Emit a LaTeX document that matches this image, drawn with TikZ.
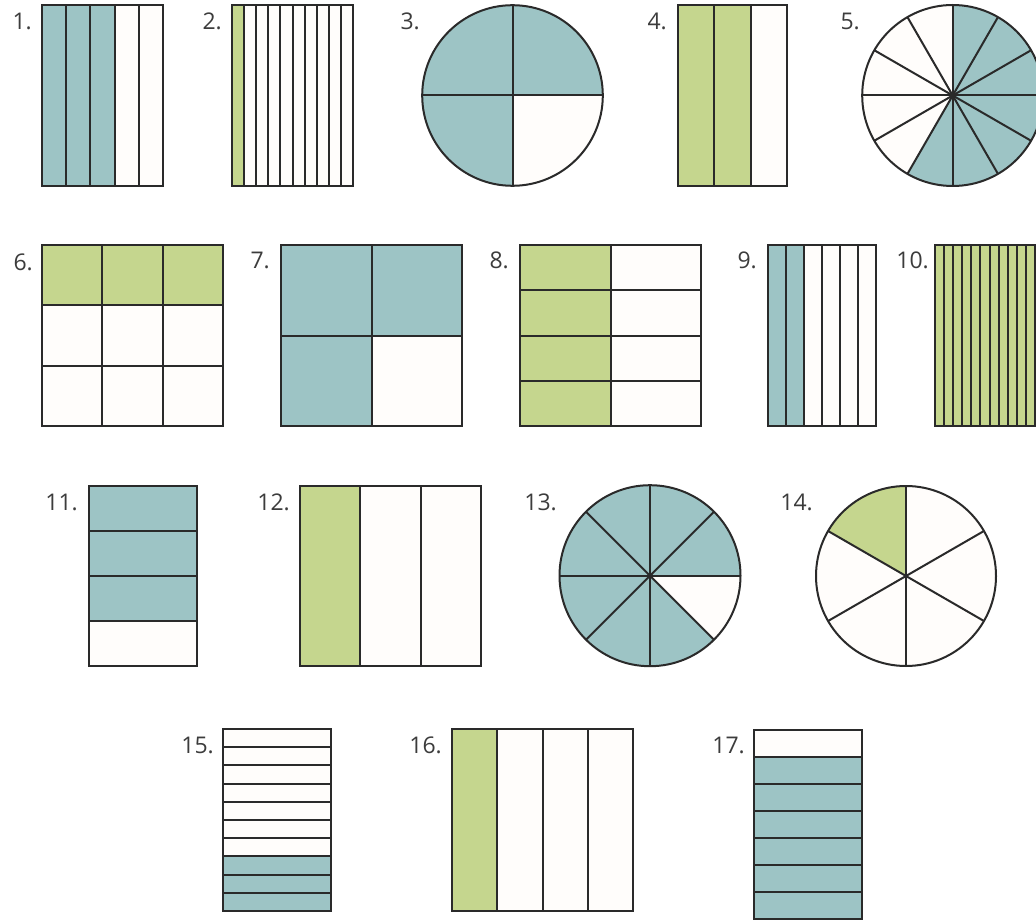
\documentclass[tikz,border=0pt]{standalone}
\usepackage{fontspec}
\newfontfamily\lblfont{Open Sans}
\definecolor{bluef}{HTML}{9DC4C5}
\definecolor{greenf}{HTML}{C5D68E}
\definecolor{whitef}{HTML}{FFFDFB}
\definecolor{linec}{HTML}{2A2A2A}
\definecolor{labelc}{HTML}{3C3C3C}
\tikzset{
  part/.style={draw=linec, line width=2pt},
  lbl/.style={font=\lblfont\fontsize{23}{23}\selectfont, text=labelc, anchor=base east, inner sep=0pt},
}
\newcommand\vstrips[7]{%
  \pgfmathsetmacro\stw{(#3-#1)/#5}%
  \fill[whitef] (#1,#2) rectangle (#3,#4);%
  \fill[#7] (#1,#2) rectangle ({#1+#6*\stw},#4);%
  \pgfmathtruncatemacro\stn{#5-1}%
  \foreach \i in {1,...,\stn}{\draw[part] ({#1+\i*\stw},#2) -- ({#1+\i*\stw},#4);}%
  \draw[part] (#1,#2) rectangle (#3,#4);%
}
\newcommand\hstrips[8]{%
  \pgfmathsetmacro\sth{(#4-#2)/#5}%
  \fill[whitef] (#1,#2) rectangle (#3,#4);%
  \fill[#8] (#1,{#2+#6*\sth}) rectangle (#3,{#2+(#7+1)*\sth});%
  \pgfmathtruncatemacro\stn{#5-1}%
  \foreach \i in {1,...,\stn}{\draw[part] (#1,{#2+\i*\sth}) -- (#3,{#2+\i*\sth});}%
  \draw[part] (#1,#2) rectangle (#3,#4);%
}
\begin{document}
\begin{tikzpicture}[x=1pt,y=-1pt]
\useasboundingbox (0,0) rectangle (1036,920);
\fill[white] (0,0) rectangle (1036,920);
\clip (0,0) rectangle (1036,920);

% row 1
\vstrips{42}{5}{163}{186}{5}{3}{bluef}
\vstrips{232}{5}{353}{186}{10}{1}{greenf}
% 3
\fill[bluef] (512.5,95.5) circle[radius=90.3];
\fill[whitef] (512.5,95.5) -- ++(0:90.3) arc[start angle=0,end angle=90,radius=90.3] -- cycle;
\foreach \a in {0,90,180,270} \draw[part] (512.5,95.5) -- ++(\a:90.3);
\draw[part] (512.5,95.5) circle[radius=90.3];
\vstrips{678}{5}{787}{186}{3}{2}{greenf}
% 5
\fill[bluef] (952.7,95.5) circle[radius=90.5];
\fill[whitef] (952.7,95.5) -- ++(-240:90.5) arc[start angle=-240,end angle=-90,radius=90.5] -- cycle;
\foreach \a in {0,30,...,330} \draw[part] (952.7,95.5) -- ++(\a:90.5);
\draw[part] (952.7,95.5) circle[radius=90.5];
\fill[linec] (952.7,95.5) circle[radius=3];

% row 2
% 6
\fill[whitef] (42,245) rectangle (223,426);
\fill[greenf] (42,245) rectangle (223,305.33);
\foreach \v in {102.33,162.67} \draw[part] (\v,245) -- (\v,426);
\foreach \h in {305.33,365.67} \draw[part] (42,\h) -- (223,\h);
\draw[part] (42,245) rectangle (223,426);
% 7
\fill[bluef] (281,245) rectangle (462,426);
\fill[whitef] (371.5,335.5) rectangle (462,426);
\draw[part] (371.5,245) -- (371.5,426);
\draw[part] (281,335.5) -- (462,335.5);
\draw[part] (281,245) rectangle (462,426);
% 8
\fill[whitef] (520,245) rectangle (701,426);
\fill[greenf] (520,245) rectangle (610.5,426);
\draw[part] (610.5,245) -- (610.5,426);
\foreach \h in {290.25,335.5,380.75} \draw[part] (520,\h) -- (701,\h);
\draw[part] (520,245) rectangle (701,426);
\vstrips{767.5}{245}{876}{426}{6}{2}{bluef}
\vstrips{935}{245}{1044}{426}{12}{12}{greenf}

% row 3
\hstrips{89}{486}{197}{666}{4}{0}{2}{bluef}
\vstrips{300}{486}{481}{666}{3}{1}{greenf}
% 13
\fill[bluef] (650,575.7) circle[radius=90.5];
\fill[whitef] (650,575.7) -- ++(0:90.5) arc[start angle=0,end angle=45,radius=90.5] -- cycle;
\foreach \a in {0,45,...,315} \draw[part] (650,575.7) -- ++(\a:90.5);
\draw[part] (650,575.7) circle[radius=90.5];
\fill[linec] (650,575.7) circle[radius=3];
% 14
\fill[whitef] (906,576) circle[radius=90];
\fill[greenf] (906,576) -- ++(-150:90) arc[start angle=-150,end angle=-90,radius=90] -- cycle;
\foreach \a in {30,90,...,330} \draw[part] (906,576) -- ++(\a:90);
\draw[part] (906,576) circle[radius=90];

% row 4
\hstrips{223}{729}{331}{911}{10}{7}{9}{bluef}
\vstrips{452}{729}{633}{911}{4}{1}{greenf}
\hstrips{754}{730}{862}{919}{7}{1}{6}{bluef}

% labels
\node[lbl] (l1) at (32,30) {1.};
\node[lbl] (l2) at (222,30) {2.};
\node[lbl] (l3) at (420,30) {3.};
\node[lbl] (l4) at (667,30) {4.};
\node[lbl] (l5) at (860,30) {5.};
\node[lbl] (l6) at (33,270) {6.};
\node[lbl] (l7) at (270,268) {7.};
\node[lbl] (l8) at (509,268) {8.};
\node[lbl] (l9) at (757,268) {9.};
\node[lbl] (l10) at (929,268) {10.};
\node[lbl] (l11) at (78,510) {11.};
\node[lbl] (l12) at (290,510) {12.};
\node[lbl] (l13) at (557,510) {13.};
\node[lbl] (l14) at (813,510) {14.};
\node[lbl] (l15) at (214,753) {15.};
\node[lbl] (l16) at (442,753) {16.};
\node[lbl] (l17) at (745,753) {17.};
\end{tikzpicture}
\end{document}
